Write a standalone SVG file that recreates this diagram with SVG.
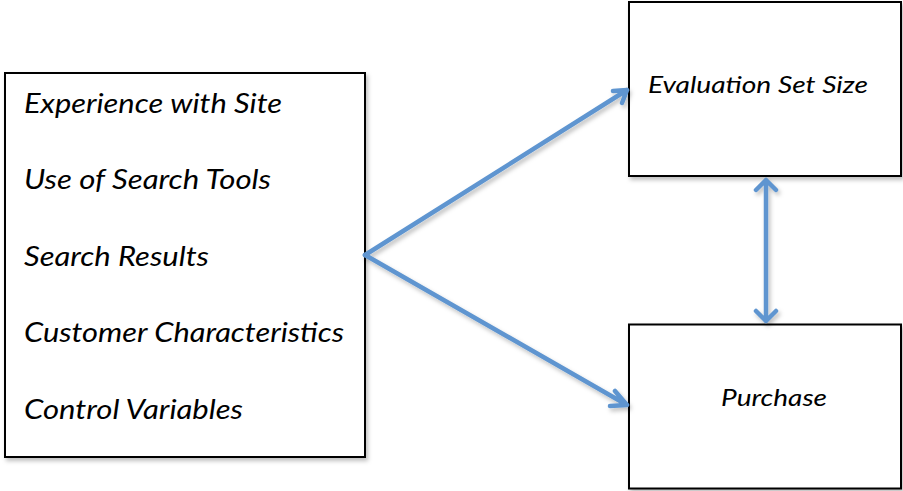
<svg xmlns="http://www.w3.org/2000/svg" width="903" height="491" viewBox="0 0 903 491">
<style>
.box{fill:#fff;stroke:#000;stroke-width:2}
.t{font-family:Lato,"Open Sans","Liberation Sans",sans-serif;font-style:italic;fill:#000}
.big{font-size:27px}
.sm{font-size:24px}
.c{fill:none;stroke:#5E95D0;stroke-width:4.5;stroke-linecap:round;stroke-linejoin:round}
</style>
<defs>
<filter id="sh" x="-5%" y="-5%" width="115%" height="115%">
<feDropShadow dx="2" dy="3" stdDeviation="2" flood-color="#000" flood-opacity="0.25"/>
</filter>
</defs>
<g id="factors">
<rect class="box" x="5" y="73" width="360" height="384" filter="url(#sh)"/>
<text class="t big" x="24" y="112.5" textLength="258" lengthAdjust="spacingAndGlyphs">Experience with Site</text>
<text class="t big" x="24" y="189" textLength="247" lengthAdjust="spacingAndGlyphs">Use of Search Tools</text>
<text class="t big" x="24" y="265.5" textLength="185" lengthAdjust="spacingAndGlyphs">Search Results</text>
<text class="t big" x="24" y="342" textLength="320" lengthAdjust="spacingAndGlyphs">Customer Characteristics</text>
<text class="t big" x="24" y="419" textLength="219" lengthAdjust="spacingAndGlyphs">Control Variables</text>
</g>
<g id="evaluation">
<rect class="box" x="629" y="2" width="272" height="174" filter="url(#sh)"/>
<text class="t sm" x="648" y="93" textLength="220" lengthAdjust="spacingAndGlyphs">Evaluation Set Size</text>
</g>
<g id="purchase">
<rect class="box" x="629" y="324.5" width="272" height="164" filter="url(#sh)"/>
<text class="t sm" x="721" y="406" textLength="106" lengthAdjust="spacingAndGlyphs">Purchase</text>
</g>
<g id="connectors" filter="url(#sh)">
<path class="c" d="M365 255 L627 90 M613 91 L627 90 L622 103"/>
<path class="c" d="M365 255 L627 405 M615 391 L627 405 L610 406"/>
<path class="c" d="M766 180 L766 321 M756 190 L766 180 L776 190 M756 311 L766 321 L776 311"/>
</g>
</svg>
